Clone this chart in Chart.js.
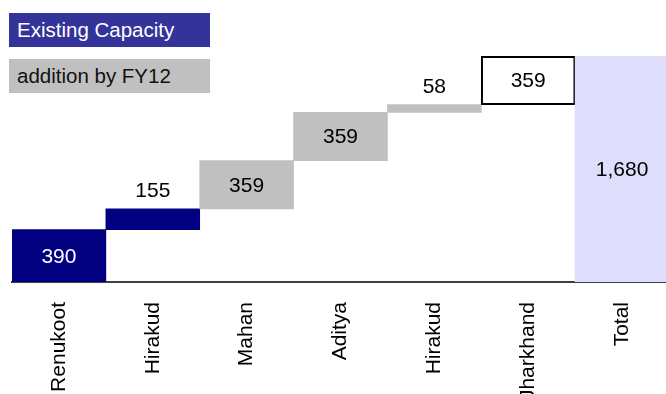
<!DOCTYPE html>
<html>
<head>
<meta charset="utf-8">
<script src="https://cdn.jsdelivr.net/npm/chart.js@4/dist/chart.umd.min.js"></script>
<style>
  html, body { margin: 0; padding: 0; background: #fff; }
  #wrap { position: relative; width: 666px; height: 394px; overflow: hidden; }
  #waterfall { display: block; }
  .key {
    position: absolute; left: 9px; width: 193px; height: 34px; padding-left: 8px;
    font: 20.5px "Liberation Sans", Arial, sans-serif; line-height: 34px;
  }
  .key.existing { top: 13px; background: #333399; color: #fff; }
  .key.addition { top: 59px; background: #c0c0c0; color: #111; }
</style>
</head>
<body>
<div id="wrap">
  <!-- slightly wider than the window: the Total bar runs off the right edge -->
  <canvas id="waterfall" width="669" height="394"></canvas>
  <div class="key existing">Existing Capacity</div>
  <div class="key addition">addition by FY12</div>
</div>
<script>
const categories = ['Renukoot', 'Hirakud', 'Mahan', 'Aditya', 'Hirakud', 'Jharkhand', 'Total'];
const additions = [390, 155, 359, 359, 58, 359];
const kinds = ['existing', 'existing', 'addition', 'addition', 'addition', 'planned'];

const fills = { existing: '#000080', addition: '#c0c0c0', planned: '#ffffff', total: '#dedefc' };

// floating ranges: each step starts where the previous one ended
const ranges = [];
let running = 0;
additions.forEach(v => {
  ranges.push([running, running + v]);
  running += v;
});
const total = running;
ranges.push([0, total]);
const labelValues = additions.concat([total]);
const barKinds = kinds.concat(['total']);

const valueLabels = {
  id: 'valueLabels',
  afterDatasetsDraw(chart) {
    const ctx = chart.ctx;
    const meta = chart.getDatasetMeta(0);
    ctx.save();
    ctx.font = '21px "Liberation Sans", Arial, sans-serif';
    ctx.textAlign = 'center';
    meta.data.forEach((bar, i) => {
      const text = labelValues[i].toLocaleString('en-US');
      const h = Math.abs(bar.base - bar.y);
      if (h < 30) {
        ctx.fillStyle = '#000';
        ctx.textBaseline = 'bottom';
        ctx.fillText(text, bar.x, bar.y - 7);
      } else {
        ctx.fillStyle = barKinds[i] === 'existing' ? '#fff' : '#000';
        ctx.textBaseline = 'middle';
        ctx.fillText(text, bar.x, (bar.y + bar.base) / 2 + 1);
      }
    });
    ctx.restore();
  }
};

new Chart(document.getElementById('waterfall'), {
  type: 'bar',
  data: {
    labels: categories,
    datasets: [{
      data: ranges,
      backgroundColor: barKinds.map(k => fills[k]),
      borderColor: '#000',
      borderWidth: barKinds.map(k => k === 'planned' ? 2 : 0),
      borderSkipped: false,
      barPercentage: 1,
      categoryPercentage: 1
    }]
  },
  options: {
    responsive: false,
    animation: false,
    layout: { padding: { left: 12, right: 0, top: 0, bottom: 0 } },
    plugins: { legend: { display: false }, tooltip: { enabled: false } },
    scales: {
      x: {
        grid: { display: false },
        border: { display: true, color: '#404040', width: 2 },
        ticks: {
          color: '#000',
          font: { family: '"Liberation Sans", Arial, sans-serif', size: 21 },
          minRotation: 90,
          maxRotation: 90,
          padding: 12,
          autoSkip: false
        },
        afterFit(scale) { scale.height = 112; }
      },
      y: {
        display: false,
        min: 0,
        max: 2100
      }
    }
  },
  plugins: [valueLabels]
});
</script>
</body>
</html>
